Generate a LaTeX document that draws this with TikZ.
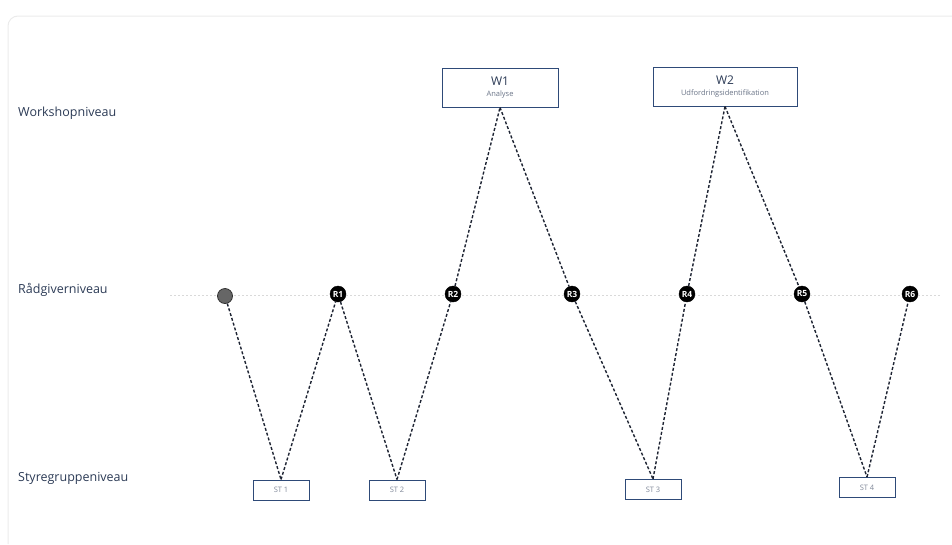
\documentclass[tikz,border=0pt]{standalone}
\usepackage{fontspec}
\setmainfont{Open Sans}
\definecolor{lbl}{HTML}{2B3A55}
\definecolor{boxc}{HTML}{2E4A78}
\definecolor{linec}{HTML}{1E2433}
\tikzset{
  x=1pt,y=-1pt,
  lvl/.style={anchor=west,text=lbl,font=\fontsize{12.5}{14}\selectfont,inner sep=0pt},
  wbox/.style={draw=boxc,line width=1pt,fill=white,minimum height=39pt,inner sep=2pt,align=center},
  stbox/.style={draw=boxc,line width=1pt,fill=white,minimum width=56pt,minimum height=20pt,inner sep=0pt,text=lbl!60,font=\fontsize{7.5}{9}\selectfont},
  rnode/.style={circle,fill=black,draw=black,minimum size=16pt,inner sep=0pt,text=white,font=\bfseries\fontsize{8.5}{9}\selectfont},
  startnode/.style={circle,fill=black!60,draw=black!80,line width=0.8pt,minimum size=15pt,inner sep=0pt},
  conn/.style={draw=linec,line width=1.4pt,densely dashed},
}
\begin{document}
\begin{tikzpicture}
\useasboundingbox (0,0) rectangle (952,544);
\draw[black!8,line width=1pt,rounded corners=10pt] (8,544) -- (8,16) -- (952,16);
\draw[black!15,line width=0.8pt,dash pattern=on 2pt off 2pt] (170,295) -- (940,295);
\node[lvl] (l1) at (18,113) {Workshopniveau};
\node[lvl] (l2) at (18,290) {Rådgiverniveau};
\node[lvl] (l3) at (18,478) {Styregruppeniveau};
\node[wbox,minimum width=116pt] (w1) at (500,87.5) {\fontsize{12}{13}\selectfont\textcolor{lbl}{W1}\\[-1pt]\fontsize{7.5}{8}\selectfont\textcolor{lbl!70}{Analyse}};
\node[wbox,minimum width=144pt] (w2) at (725,86.5) {\fontsize{12}{13}\selectfont\textcolor{lbl}{W2}\\[-1pt]\fontsize{7.5}{8}\selectfont\textcolor{lbl!70}{Udfordringsidentifikation}};
\node[stbox] (s1) at (281,490) {ST 1};
\node[stbox] (s2) at (397,490) {ST 2};
\node[stbox] (s3) at (653,489.5) {ST 3};
\node[stbox] (s4) at (867,487.5) {ST 4};
\node[startnode] (r0) at (225,296) {};
\node[rnode] (r1) at (338,294) {R1};
\node[rnode] (r2) at (453,294) {R2};
\node[rnode] (r3) at (572,294) {R3};
\node[rnode] (r4) at (687,294) {R4};
\node[rnode] (r5) at (802,294) {R5};
\node[rnode] (r6) at (910,294) {R6};
\draw[conn] (r0) -- (s1.north);
\draw[conn] (s1.north) -- (r1);
\draw[conn] (r1) -- (s2.north);
\draw[conn] (s2.north) -- (r2);
\draw[conn] (r2) -- (w1.south);
\draw[conn] (w1.south) -- (r3);
\draw[conn] (r3) -- (s3.north);
\draw[conn] (s3.north) -- (r4);
\draw[conn] (r4) -- (w2.south);
\draw[conn] (w2.south) -- (r5);
\draw[conn] (r5) -- (s4.north);
\draw[conn] (s4.north) -- (r6);
\end{tikzpicture}
\end{document}
